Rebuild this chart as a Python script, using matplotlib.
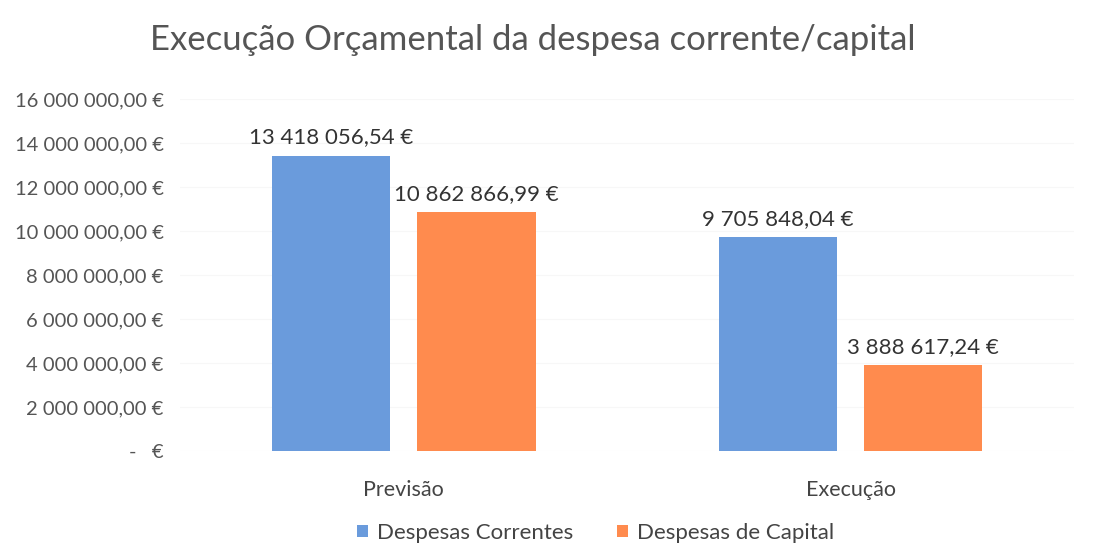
import numpy as np
import matplotlib.pyplot as plt
from matplotlib.ticker import FuncFormatter

# data
categories = ['Previsão', 'Execução']
series_names = ['Despesas Correntes', 'Despesas de Capital']
correntes = [13418056.54, 9705848.04]
capital = [10862866.99, 3888617.24]
colors = ['#6A9BDC', '#FF8B4E']

plt.rcParams['font.family'] = ['Lato', 'DejaVu Sans']


def fmt_eur(v, pos=None):
    if v == 0:
        return '-   €'
    s = '{:,.2f}'.format(v)
    s = s.replace(',', ' ').replace('.', ',')
    return s + ' €'


fig = plt.figure(figsize=(11.13, 5.44), dpi=100)
ax = fig.add_axes([0.162, 0.171, 0.803, 0.647])

x = np.arange(len(categories))
w = 0.265
gap = 0.06
off = (w + gap) / 2
b1 = ax.bar(x - off, correntes, w, color=colors[0], label=series_names[0])
b2 = ax.bar(x + off, capital, w, color=colors[1], label=series_names[1])

for bars, vals in [(b1, correntes), (b2, capital)]:
    for b, v in zip(bars, vals):
        ax.annotate(fmt_eur(v), (b.get_x() + b.get_width() / 2, v),
                    xytext=(0, 6), textcoords='offset points',
                    ha='center', va='bottom', fontsize=16, color='#333333')

ax.set_xlim(-0.5, 1.5)
ax.set_ylim(0, 16000000)
ax.set_yticks(np.arange(0, 16000001, 2000000))
ax.yaxis.set_major_formatter(FuncFormatter(fmt_eur))
ax.set_xticks(x)
ax.set_xticklabels(categories)
ax.tick_params(axis='y', length=0, labelsize=14.5, labelcolor='#555555', pad=12)
ax.tick_params(axis='x', length=0, labelsize=15.5, labelcolor='#444444', pad=21)
ax.grid(axis='y', color='#F7F7F7', linewidth=0.8)
ax.set_axisbelow(True)
for s in ax.spines.values():
    s.set_visible(False)

fig.suptitle('Execução Orçamental da despesa corrente/capital', x=0.479, y=0.955,
             fontsize=25, color='#555555')

fig.legend(loc='lower center', bbox_to_anchor=(0.535, -0.035), ncol=2, frameon=False,
           fontsize=16, handlelength=0.5, handleheight=0.5, columnspacing=2.0,
           handletextpad=0.4, labelcolor='#444444')

fig.savefig('out.png', dpi=100)
